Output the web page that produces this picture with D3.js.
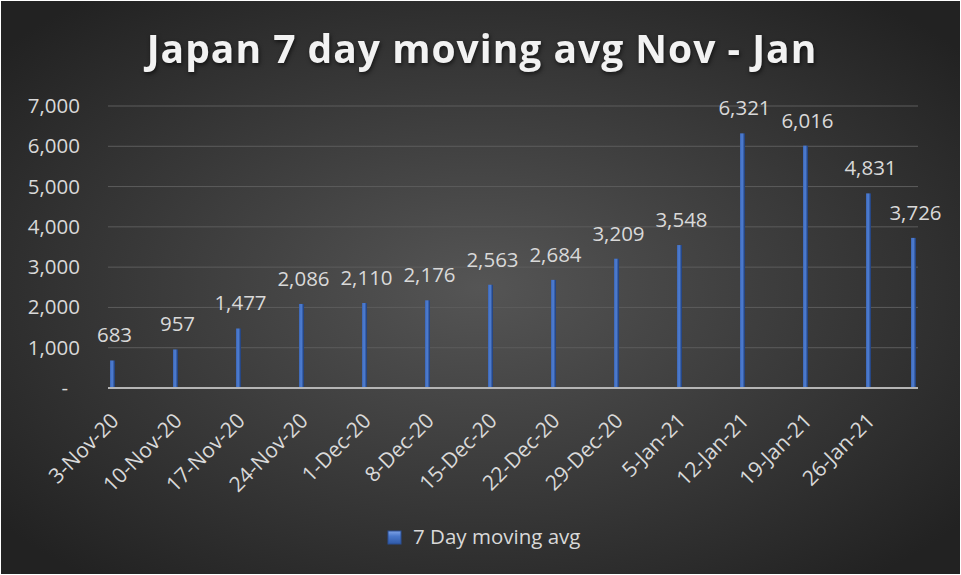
<!DOCTYPE html>
<html>
<head>
<meta charset="utf-8">
<script src="https://cdn.jsdelivr.net/npm/d3@7"></script>
<style>
  body { margin: 0; background: #fff; }
  svg { display: block; }
</style>
</head>
<body>
<div id="chart"></div>
<script>
(function() {
	// data
	var dates = ["2020-11-03", "2020-11-10", "2020-11-17", "2020-11-24", "2020-12-01", "2020-12-08",
		"2020-12-15", "2020-12-22", "2020-12-29", "2021-01-05", "2021-01-12", "2021-01-19",
		"2021-01-26", "2021-01-31"];
	var values = [683, 957, 1477, 2086, 2110, 2176, 2563, 2684, 3209, 3548, 6321, 6016, 4831, 3726];
	var tickDates = ["2020-11-03", "2020-11-10", "2020-11-17", "2020-11-24", "2020-12-01", "2020-12-08",
		"2020-12-15", "2020-12-22", "2020-12-29", "2021-01-05", "2021-01-12", "2021-01-19", "2021-01-26"];
	var yTicks = [0, 1000, 2000, 3000, 4000, 5000, 6000, 7000];
	var title = "Japan 7 day moving avg Nov - Jan";
	var seriesName = "7 Day moving avg";

	var W = 961, H = 575;
	var margin = { top: 106, left: 108, right: 43, bottom: 187 },
		width = W - margin.left - margin.right,
		height = H - margin.top - margin.bottom;

	var font = "'Open Sans', sans-serif";
	var parse = d3.utcParse("%Y-%m-%d");
	var data = dates.map(function(d, i) { return { date: parse(d), value: values[i] }; });

	var root = d3.select("#chart").append("svg")
		.attr("width", W)
		.attr("height", H);

	var defs = root.append("defs");
	var bg = defs.append("radialGradient").attr("id", "bg")
		.attr("cx", "50%").attr("cy", "50%").attr("r", "65%");
	bg.append("stop").attr("offset", "0%").attr("stop-color", "#555555");
	bg.append("stop").attr("offset", "100%").attr("stop-color", "#222222");

	var barGrad = defs.append("linearGradient").attr("id", "bar")
		.attr("x1", "0%").attr("x2", "100%").attr("y1", "0%").attr("y2", "0%");
	barGrad.append("stop").attr("offset", "0%").attr("stop-color", "#3c66b4");
	barGrad.append("stop").attr("offset", "45%").attr("stop-color", "#5080d6");
	barGrad.append("stop").attr("offset", "100%").attr("stop-color", "#1d3a72");

	var keyGrad = defs.append("linearGradient").attr("id", "key")
		.attr("x1", "0%").attr("x2", "0%").attr("y1", "0%").attr("y2", "100%");
	keyGrad.append("stop").attr("offset", "0%").attr("stop-color", "#7fa3e6");
	keyGrad.append("stop").attr("offset", "40%").attr("stop-color", "#4a78cc");
	keyGrad.append("stop").attr("offset", "100%").attr("stop-color", "#2f5aa8");

	root.append("rect")
		.attr("x", 1).attr("y", 1)
		.attr("width", W - 2).attr("height", H - 2)
		.attr("fill", "url(#bg)");

	root.append("text")
		.attr("x", 482)
		.attr("y", 63)
		.attr("text-anchor", "middle")
		.attr("font-family", font)
		.attr("font-weight", "bold")
		.attr("font-size", 39)
		.attr("letter-spacing", 1)
		.attr("fill", "#f2f2f2")
		.style("filter", "drop-shadow(1px 2px 2px rgba(0,0,0,0.6))")
		.text(title);

	var svg = root.append("g")
		.attr("transform", "translate(" + margin.left + "," + margin.top + ")");

	var first = parse(dates[0]);
	var last = d3.utcDay.offset(parse(dates[dates.length - 1]), 1);
	var xScale = d3.scaleUtc().domain([first, last]).range([0, width]);
	var yScale = d3.scaleLinear().domain([0, 7000]).range([height, 0]);
	var mid = function(d) { return xScale(new Date(d.getTime() + 12 * 3600 * 1000)); };

	// gridlines
	svg.selectAll("line.grid")
		.data(yTicks.slice(1))
		.enter()
		.append("line")
		.attr("class", "grid")
		.attr("x1", 0).attr("x2", width)
		.attr("y1", function(d) { return yScale(d); })
		.attr("y2", function(d) { return yScale(d); })
		.attr("stroke", "#5c5c5c")
		.attr("stroke-width", 1);

	// y axis
	var yAxis = svg.append("g")
		.call(d3.axisLeft(yScale).tickValues(yTicks)
			.tickFormat(function(d) { return d === 0 ? "-" : d3.format(",")(d); })
			.tickSize(0).tickPadding(28));
	yAxis.select(".domain").remove();
	yAxis.selectAll("text")
		.attr("font-family", font)
		.attr("font-size", 20.5)
		.attr("fill", "#d9d9d9")
		.attr("dx", function(d) { return d === 0 ? -12 : 0; });

	// bars
	svg.selectAll("rect.bar")
		.data(data)
		.enter()
		.append("rect")
		.attr("class", "bar")
		.attr("x", function(d) { return mid(d.date) - 2.5; })
		.attr("width", 5)
		.attr("y", function(d) { return yScale(d.value); })
		.attr("height", function(d) { return height - yScale(d.value); })
		.attr("fill", "url(#bar)");

	// value labels
	svg.selectAll("text.val")
		.data(data)
		.enter()
		.append("text")
		.attr("class", "val")
		.attr("x", function(d) { return mid(d.date) + 2; })
		.attr("y", function(d) { return yScale(d.value) - 18; })
		.attr("text-anchor", "middle")
		.attr("font-family", font)
		.attr("font-size", 20.5)
		.attr("fill", "#d9d9d9")
		.text(function(d) { return d3.format(",")(d.value); });

	// baseline
	svg.append("line")
		.attr("x1", 0).attr("x2", width)
		.attr("y1", height).attr("y2", height)
		.attr("stroke", "#b5b5b5")
		.attr("stroke-width", 2);

	// x axis labels
	var xAxis = svg.append("g")
		.attr("transform", "translate(0," + height + ")")
		.call(d3.axisBottom(xScale)
			.tickValues(tickDates.map(function(d) { return new Date(parse(d).getTime() + 12 * 3600 * 1000); }))
			.tickFormat(d3.utcFormat("%-d-%b-%y"))
			.tickSize(0));
	xAxis.select(".domain").remove();
	xAxis.selectAll("text")
		.attr("font-family", font)
		.attr("font-size", 21)
		.attr("fill", "#d9d9d9")
		.attr("text-anchor", "end")
		.attr("dy", 0)
		.attr("transform", "translate(5,32) rotate(-45)");

	// legend
	var legend = root.append("g").attr("transform", "translate(388,531)");
	legend.append("rect")
		.attr("width", 13).attr("height", 13)
		.attr("fill", "url(#key)")
		.attr("stroke", "#2a4f94");
	legend.append("text")
		.attr("x", 25).attr("y", 13)
		.attr("font-family", font)
		.attr("font-size", 20.5)
		.attr("fill", "#d9d9d9")
		.text(seriesName);
})();
</script>
</body>
</html>
